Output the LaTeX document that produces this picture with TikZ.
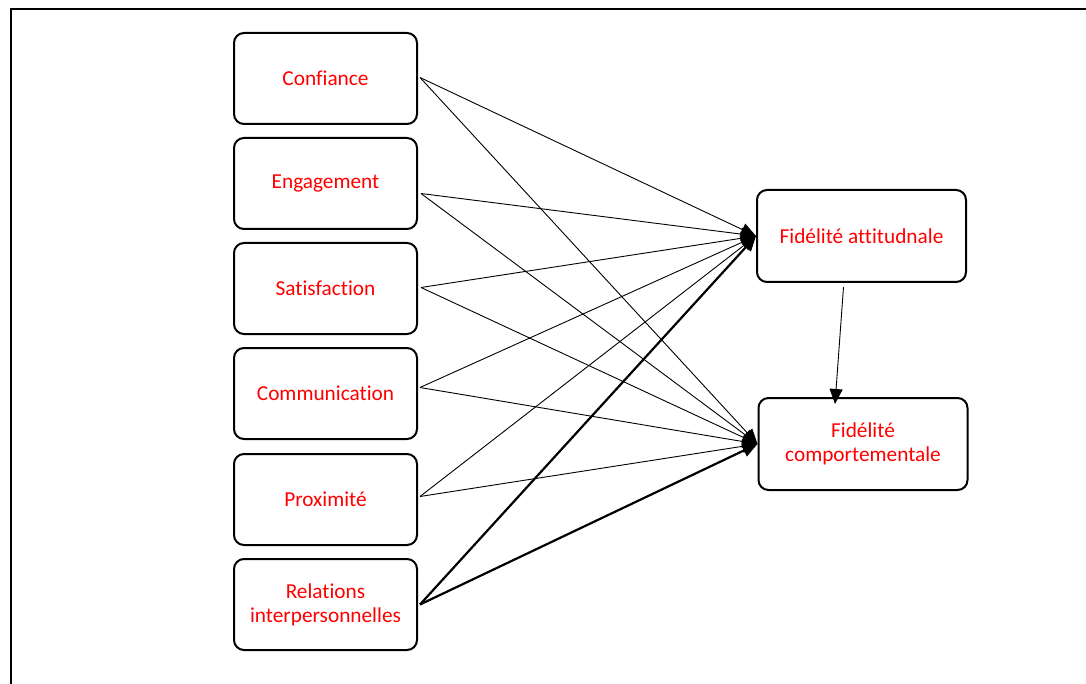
\documentclass[tikz,border=0pt]{standalone}
\usepackage{fontspec}
\setmainfont{Carlito}[Ligatures=NoCommon]
\usetikzlibrary{arrows.meta}
\begin{document}
\begin{tikzpicture}[x=1pt,y=-1pt,
  box/.style={draw,line width=2pt,rounded corners=10pt,minimum width=183pt,minimum height=91pt,inner sep=0pt,align=center,text=red,font=\fontsize{21.3}{24}\selectfont},
  rbox/.style={box,minimum width=209pt,minimum height=92pt},
  link/.style={line width=0.9pt,-{Triangle[length=15pt,width=13pt]}},
  thick link/.style={line width=2.2pt,-{Triangle[length=15pt,width=13pt]}}]
\useasboundingbox (0,0) rectangle (1086,684);
\draw[line width=2.8pt] (11,684) -- (11,9) -- (1086,9);
\node[box] (c1) at (325.5,78.5) {Confiance};
\node[box] (c2) at (325.5,183.5) {Engagement};
\node[box] (c3) at (325.5,288.5) {Satisfaction};
\node[box] (c4) at (325.5,393.5) {Communication};
\node[box] (c5) at (325.5,499.5) {Proximité};
\node[box] (c6) at (325.5,604.5) {Relations\\interpersonnelles};
\node[rbox] (fa) at (861.5,236) {Fidélité attitudnale};
\node[rbox] (fc) at (863,444) {Fidélité\\comportementale};
\coordinate (s1) at ([xshift=2pt,yshift=1pt]c1.east);
\coordinate (s2) at ([xshift=3pt,yshift=-10pt]c2.east);
\coordinate (s3) at ([xshift=3pt,yshift=1pt]c3.east);
\coordinate (s4) at ([xshift=2pt,yshift=6pt]c4.east);
\coordinate (s5) at ([xshift=2pt,yshift=3pt]c5.east);
\coordinate (s6) at ([xshift=2pt]c6.east);
\foreach \i in {1,...,5}{
  \draw[link] (s\i) -- (fa.west);
  \draw[link] (s\i) -- (fc.west);
}
\draw[thick link] (s6) -- (fa.west);
\draw[thick link] (s6) -- (fc.west);
\coordinate (v1) at ([xshift=-18pt,yshift=-4pt]fa.south);
\coordinate (v2) at ([xshift=-28pt,yshift=-7pt]fc.north);
\draw[link] (v1) -- (v2);
\end{tikzpicture}
\end{document}
